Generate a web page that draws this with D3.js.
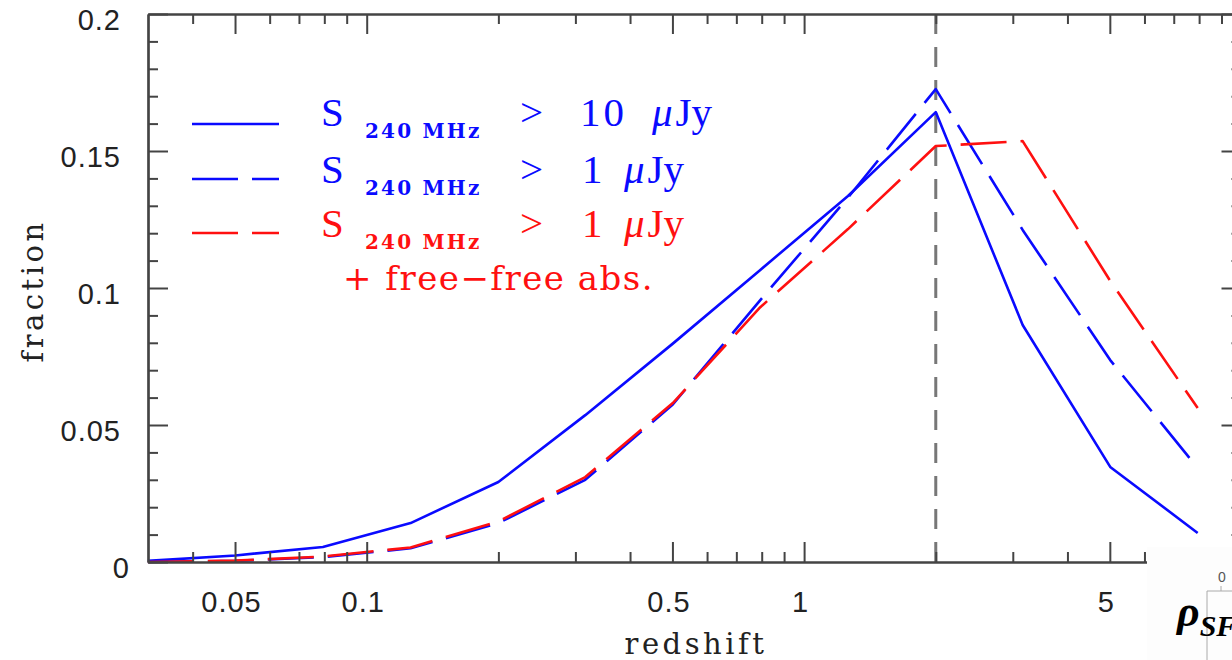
<!DOCTYPE html>
<html>
<head>
<meta charset="utf-8">
<script src="https://cdn.jsdelivr.net/npm/d3@7"></script>
<style>
  html, body { margin: 0; padding: 0; background: #fff; }
  svg { display: block; }
</style>
</head>
<body>
<svg id="chart" width="1232" height="660"></svg>
<script>
// Redshift bins (bin centres, 0.2 dex apart)
const redshift = [0.0316, 0.0501, 0.0794, 0.126, 0.2, 0.316, 0.501, 0.794, 1.26, 2.0, 3.16, 5.01, 7.94];

// Fraction of sources per bin
const blueSolid  = [0.0004, 0.0024, 0.0055, 0.0142, 0.0292, 0.0536, 0.0797, 0.1066, 0.1336, 0.1642, 0.0865, 0.0347, 0.0106];
const blueDashed = [0.0000, 0.0004, 0.0018, 0.0050, 0.0142, 0.0300, 0.0575, 0.0956, 0.1330, 0.1726, 0.1212, 0.0737, 0.0343];
const redDashed  = [0.0000, 0.0005, 0.0020, 0.0053, 0.0148, 0.0310, 0.0580, 0.0930, 0.1215, 0.1518, 0.1536, 0.1026, 0.0562];

// Axis ticks
const xMajor = [0.05, 0.1, 0.5, 1, 5];
const xMajorLabels = ["0.05", "0.1", "0.5", "1", "5"];
const xMinor = [0.04, 0.06, 0.07, 0.08, 0.09, 0.2, 0.3, 0.4, 0.6, 0.7, 0.8, 0.9, 2, 3, 4, 6, 7, 8, 9];
const yMajor = [0, 0.05, 0.1, 0.15, 0.2];
const yMajorLabels = ["0", "0.05", "0.1", "0.15", "0.2"];
const yMinor = [0.01, 0.02, 0.03, 0.04, 0.06, 0.07, 0.08, 0.09, 0.11, 0.12, 0.13, 0.14, 0.16, 0.17, 0.18, 0.19];
const markerZ = 2;

const svg = d3.select("#chart");
const plotLeft = 148, plotRight = 1241.5, plotTop = 14, plotBottom = 562;

const x = d3.scaleLog().domain([0.0316228, 10]).range([plotLeft, plotRight]);
const y = d3.scaleLinear().domain([0, 0.2]).range([plotBottom, plotTop]);

const axisColor = "#444";
const BLUE = "#0a0aff", RED = "#ff1010";

// vertical marker at z = 2
svg.append("line")
  .attr("x1", x(markerZ)).attr("x2", x(markerZ))
  .attr("y1", plotTop).attr("y2", plotBottom)
  .attr("stroke", "#777").attr("stroke-width", 3)
  .attr("stroke-dasharray", "20,13");

// curves
const line = d3.line().x(d => x(d[0])).y(d => y(d[1]));
const series = [
  { vals: blueSolid, color: BLUE, dash: null },
  { vals: blueDashed, color: BLUE, dash: "46,14" },
  { vals: redDashed, color: RED, dash: "46,14" }
];
series.forEach(s => {
  svg.append("path")
    .datum(redshift.map((z, i) => [z, s.vals[i]]))
    .attr("d", line)
    .attr("fill", "none")
    .attr("stroke", s.color)
    .attr("stroke-width", 2.6)
    .attr("stroke-linejoin", "round")
    .attr("stroke-dasharray", s.dash);
});

// axes
function styleAxis(g) {
  g.selectAll("path.domain").attr("stroke", axisColor).attr("stroke-width", 2.2);
  g.selectAll(".tick line").attr("stroke", axisColor).attr("stroke-width", 2);
  g.selectAll(".tick text")
    .attr("fill", "#222")
    .style("font-family", "'Liberation Sans', Arial, sans-serif")
    .style("font-size", "29px")
    .style("letter-spacing", "1px");
}

// bottom
svg.append("g").attr("transform", `translate(0,${plotBottom})`)
  .call(d3.axisBottom(x).tickValues(xMajor).tickSize(-20).tickSizeOuter(0).tickPadding(29)
    .tickFormat((d, i) => xMajorLabels[i]))
  .call(styleAxis)
  .call(g => g.selectAll(".tick text").attr("dx", -4));
svg.append("g").attr("transform", `translate(0,${plotBottom})`)
  .call(d3.axisBottom(x).tickValues(xMinor).tickSize(-10).tickSizeOuter(0).tickFormat(""))
  .call(styleAxis);

// top
svg.append("g").attr("transform", `translate(0,${plotTop})`)
  .call(d3.axisTop(x).tickValues(xMajor.concat([10])).tickSize(-20).tickSizeOuter(0).tickFormat(""))
  .call(styleAxis);
svg.append("g").attr("transform", `translate(0,${plotTop})`)
  .call(d3.axisTop(x).tickValues(xMinor).tickSize(-10).tickSizeOuter(0).tickFormat(""))
  .call(styleAxis);

// left
svg.append("g").attr("transform", `translate(${plotLeft},0)`)
  .call(d3.axisLeft(y).tickValues(yMajor).tickSize(-20).tickSizeOuter(0).tickPadding(27)
    .tickFormat((d, i) => yMajorLabels[i]))
  .call(styleAxis)
  .call(g => g.selectAll(".tick text").attr("dy", "0.55em")
    .attr("dx", d => d === 0 ? 9 : 0));
svg.append("g").attr("transform", `translate(${plotLeft},0)`)
  .call(d3.axisLeft(y).tickValues(yMinor).tickSize(-10).tickSizeOuter(0).tickFormat(""))
  .call(styleAxis);

// right
svg.append("g").attr("transform", `translate(${plotRight},0)`)
  .call(d3.axisRight(y).tickValues(yMajor).tickSize(-20).tickSizeOuter(0).tickFormat(""))
  .call(styleAxis);
svg.append("g").attr("transform", `translate(${plotRight},0)`)
  .call(d3.axisRight(y).tickValues(yMinor).tickSize(-10).tickSizeOuter(0).tickFormat(""))
  .call(styleAxis);

// axis titles
const serif = "'Liberation Serif', 'Times New Roman', serif";
const wideSerif = "'DejaVu Serif', serif";
svg.append("text")
  .attr("x", 696).attr("y", 654)
  .attr("text-anchor", "middle")
  .style("font-family", wideSerif).style("font-size", "29px").style("letter-spacing", "3.5px")
  .attr("fill", "#222")
  .text("redshift");
svg.append("text")
  .attr("transform", "translate(43,291) rotate(-90)")
  .attr("text-anchor", "middle")
  .style("font-family", wideSerif).style("font-size", "29px").style("letter-spacing", "3.5px")
  .attr("fill", "#222")
  .text("fraction");

// legend
const legendRows = [
  { lineY: 124, base: 126, color: BLUE, dash: null, value: "10", valX: 580, muX: 652 },
  { lineY: 179, base: 183, color: BLUE, dash: "46,14", value: "1", valX: 582, muX: 624 },
  { lineY: 233, base: 237, color: RED, dash: "46,14", value: "1", valX: 582, muX: 624 }
];
legendRows.forEach(r => {
  svg.append("line")
    .attr("x1", 192).attr("x2", 279).attr("y1", r.lineY).attr("y2", r.lineY)
    .attr("stroke", r.color).attr("stroke-width", 2.6)
    .attr("stroke-dasharray", r.dash);
  const g = svg.append("g").attr("fill", r.color).style("font-family", serif);
  g.append("text").attr("x", 321).attr("y", r.base).style("font-size", "41px").text("S");
  g.append("text").attr("x", 365).attr("y", r.base + 12)
    .style("font-family", wideSerif)
    .style("font-size", "20px").style("font-weight", "bold").style("letter-spacing", "2.2px")
    .text("240 MHz");
  g.append("text").attr("x", 520).attr("y", r.base).style("font-size", "41px").text(">");
  g.append("text").attr("x", r.valX).attr("y", r.base).style("font-size", "41px")
    .style("letter-spacing", "3px").text(r.value);
  const t = g.append("text").attr("x", r.muX).attr("y", r.base).style("font-size", "41px");
  t.append("tspan").style("font-style", "italic").text("μ");
  t.append("tspan").attr("dx", 3).text("Jy");
});
svg.append("text")
  .attr("x", 343).attr("y", 290)
  .attr("fill", RED)
  .style("font-family", wideSerif).style("font-size", "34px").style("letter-spacing", "1.5px")
  .text("+ free−free abs.");

// inset panel fragment in the lower right corner
const inset = svg.append("g");
inset.append("rect").attr("x", 1147).attr("y", 547).attr("width", 90).attr("height", 120).attr("fill", "#fdfdfd");
inset.append("line").attr("x1", 1207).attr("x2", 1207).attr("y1", 591).attr("y2", 660)
  .attr("stroke", "#aaa").attr("stroke-width", 1);
inset.append("line").attr("x1", 1207).attr("x2", 1232).attr("y1", 591).attr("y2", 591)
  .attr("stroke", "#aaa").attr("stroke-width", 1);
inset.append("line").attr("x1", 1221).attr("x2", 1221).attr("y1", 591).attr("y2", 586)
  .attr("stroke", "#aaa").attr("stroke-width", 1);
inset.append("text").attr("x", 1222).attr("y", 582).attr("text-anchor", "middle")
  .attr("fill", "#555").style("font-family", "'Liberation Sans', Arial, sans-serif").style("font-size", "14px")
  .text("0");
const rho = inset.append("text").attr("x", 1177).attr("y", 626)
  .attr("fill", "#000").style("font-family", serif).style("font-weight", "bold").style("font-style", "italic");
rho.append("tspan").style("font-size", "44px").text("ρ");
rho.append("tspan").attr("dy", 10).style("font-size", "30px").text("SF");
</script>
</body>
</html>
